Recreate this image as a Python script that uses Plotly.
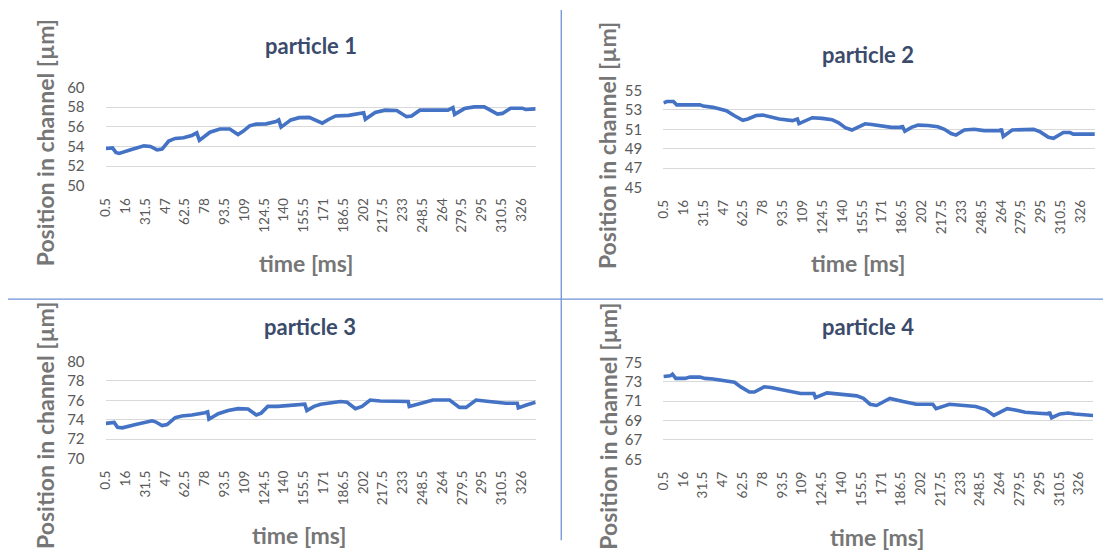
import plotly.graph_objects as go

# ---- measured particle positions (time in ms, position in µm) ----
t1 = [0.5, 5.7, 8.3, 10.9, 19.9, 30.3, 35.4, 40.6, 44.5, 49.7, 54.8, 61.3, 67.8, 71.7, 73.7,
      82.0, 89.8, 97.5, 104.0, 107.9, 113.1, 118.3, 126.0, 133.8, 135.9, 137.7, 145.4, 151.9,
      159.7, 164.8, 170.0, 175.2, 180.4, 190.7, 198.5, 202.4, 203.7, 211.4, 219.2, 228.3,
      236.0, 239.9, 246.4, 268.4, 272.3, 273.6, 281.3, 289.1, 296.9, 302.0, 307.2, 311.1,
      317.5, 326.6, 329.2, 337.0]
p1 = [53.8, 53.86, 53.4, 53.3, 53.66, 54.06, 54.0, 53.66, 53.73, 54.55, 54.82, 54.88, 55.12,
      55.38, 54.62, 55.45, 55.78, 55.78, 55.21, 55.54, 56.1, 56.27, 56.3, 56.53, 56.7, 55.97,
      56.7, 56.93, 56.96, 56.7, 56.37, 56.77, 57.1, 57.16, 57.29, 57.43, 56.77, 57.46, 57.69,
      57.66, 57.03, 57.1, 57.69, 57.69, 57.95, 57.26, 57.85, 58.02, 58.02, 57.69, 57.29, 57.36,
      57.89, 57.89, 57.76, 57.82]

t2 = [0.5, 3.1, 8.2, 10.8, 28.9, 31.5, 39.2, 44.3, 49.5, 55.9, 62.4, 66.3, 72.7, 77.9, 84.3,
      90.8, 101.1, 105.0, 106.2, 111.4, 116.6, 124.3, 132.0, 137.2, 142.3, 147.5, 151.4, 157.8,
      163.0, 170.7, 178.4, 186.2, 186.7, 188.8, 194.0, 199.1, 206.8, 214.6, 219.7, 224.9, 228.7,
      235.2, 242.9, 250.7, 263.6, 264.1, 265.6, 272.6, 289.3, 294.5, 300.9, 304.8, 312.5, 317.7,
      320.3, 337.0]
p2 = [53.73, 53.87, 53.87, 53.53, 53.53, 53.4, 53.27, 53.13, 52.93, 52.4, 51.93, 52.07, 52.43,
      52.47, 52.27, 52.07, 51.9, 52.07, 51.6, 51.93, 52.2, 52.13, 52.0, 51.67, 51.17, 50.93,
      51.17, 51.57, 51.5, 51.33, 51.2, 51.2, 51.4, 50.8, 51.2, 51.43, 51.4, 51.27, 51.0, 50.57,
      50.4, 50.93, 51.0, 50.87, 50.87, 51.07, 50.27, 50.93, 51.0, 50.73, 50.17, 50.07, 50.67,
      50.67, 50.5, 50.5]

t3 = [0.5, 7.0, 9.6, 13.4, 23.8, 31.6, 36.7, 39.3, 44.5, 48.4, 54.8, 60.0, 67.8, 78.1, 80.2,
      81.2, 88.5, 96.3, 104.0, 111.8, 118.3, 122.1, 127.3, 135.1, 145.4, 153.2, 156.3, 157.9,
      163.6, 168.7, 179.1, 184.3, 189.4, 195.9, 201.1, 207.5, 215.3, 225.7, 237.3, 238.1, 246.4,
      256.7, 269.7, 277.4, 282.6, 290.4, 300.7, 313.7, 322.7, 323.5, 330.5, 337.0]
p3 = [73.62, 73.72, 73.22, 73.16, 73.49, 73.75, 73.88, 73.78, 73.39, 73.49, 74.21, 74.38, 74.48,
      74.71, 74.81, 74.05, 74.61, 74.94, 75.14, 75.11, 74.48, 74.68, 75.37, 75.37, 75.44, 75.54,
      75.6, 74.94, 75.37, 75.6, 75.77, 75.87, 75.8, 75.14, 75.37, 76.03, 75.93, 75.87, 75.87,
      75.37, 75.7, 76.03, 76.03, 75.27, 75.27, 76.03, 75.87, 75.7, 75.7, 75.21, 75.54, 75.8]

t4 = [0.5, 5.7, 7.5, 10.1, 17.3, 21.2, 29.0, 32.9, 39.3, 47.1, 56.1, 61.3, 67.8, 71.7, 79.4,
      84.6, 92.4, 100.1, 107.9, 118.3, 119.5, 128.6, 141.5, 151.9, 157.1, 162.3, 167.4, 177.8,
      188.2, 198.5, 211.4, 214.0, 224.4, 234.7, 245.1, 252.8, 259.3, 263.2, 269.7, 276.1, 283.9,
      294.2, 302.0, 302.8, 304.6, 311.1, 317.5, 322.7, 333.1, 337.0]
p4 = [73.54, 73.6, 73.77, 73.34, 73.34, 73.47, 73.47, 73.34, 73.27, 73.14, 72.94, 72.44, 71.94,
      71.94, 72.48, 72.41, 72.18, 71.94, 71.78, 71.78, 71.35, 71.84, 71.68, 71.54, 71.28, 70.68,
      70.55, 71.28, 70.95, 70.68, 70.68, 70.22, 70.68, 70.61, 70.45, 70.12, 69.52, 69.78, 70.22,
      70.08, 69.85, 69.75, 69.68, 69.88, 69.29, 69.68, 69.78, 69.68, 69.62, 69.52]

# category labels shown on the time axis
time_labels = ["0.5", "16", "31.5", "47", "62.5", "78", "93.5", "109", "124.5", "140", "155.5",
               "171", "186.5", "202", "217.5", "233", "248.5", "264", "279.5", "295", "310.5", "326"]

titles = ["particle 1", "particle 2", "particle 3", "particle 4"]
y_ranges = [(50, 60), (45, 55), (70, 80), (65, 75)]
series = [(t1, p1), (t2, p2), (t3, p3), (t4, p4)]

W, H = 1103, 559

# plot-area boxes in pixels: (left, right, top, bottom)
boxes = [(98.3, 531.7, 80.0, 181.7),
         (660.0, 1095.0, 83.3, 183.3),
         (98.3, 531.7, 363.3, 463.3),
         (660.0, 1093.3, 364.0, 464.3)]
# text positions in pixels: chart title, y title, x title
title_pos = [(305, 37), (866, 46), (304, 327), (866, 327)]
ytitle_pos = [(37, 137), (604, 140), (37, 429), (605, 430)]
xtitle_pos = [(300, 261), (856, 261), (293, 542), (875, 545)]

FONT = "Lato"
LINE = "#4472C4"
TICK = "#595959"
AXT = "#767676"
TTL = "#3B4B6B"


def px(x):
    return x / W


def py(y):
    return 1 - y / H


fig = go.Figure()
annotations = []
tickvals = [float(s) for s in time_labels]

for i, ((t, v), (l, r, tp, bt)) in enumerate(zip(series, boxes)):
    n = "" if i == 0 else str(i + 1)
    fig.add_trace(go.Scatter(x=t, y=v, mode="lines", line=dict(color=LINE, width=3.6),
                             xaxis="x" + n, yaxis="y" + n, showlegend=False))
    fig.layout["xaxis" + n] = dict(
        domain=[px(l), px(r)], anchor="y" + n, range=[0.25, 337.25],
        tickmode="array", tickvals=tickvals, ticktext=time_labels, tickangle=-90,
        ticks="outside", ticklen=6, tickcolor="rgba(0,0,0,0)",
        tickfont=dict(family=FONT, size=13.5, color=TICK),
        showgrid=False, zeroline=False, showline=False, fixedrange=True)
    lo, hi = y_ranges[i]
    fig.layout["yaxis" + n] = dict(
        domain=[py(bt), py(tp)], anchor="x" + n, range=[lo, hi], dtick=2, tick0=lo,
        ticks="outside", ticklen=17, tickcolor="rgba(0,0,0,0)",
        tickfont=dict(family=FONT, size=15, color=TICK),
        showgrid=True, gridcolor="#D9D9D9", gridwidth=1,
        zeroline=False, showline=False, fixedrange=True)

    tx, ty = title_pos[i]
    annotations.append(dict(text="<b>%s</b>" % titles[i], x=px(tx), y=py(ty), xref="paper",
                            yref="paper", showarrow=False, xanchor="center", yanchor="middle",
                            font=dict(family=FONT, size=22, color=TTL)))
    yx, yy = ytitle_pos[i]
    annotations.append(dict(text="<b>Position in channel [µm]</b>", x=px(yx), y=py(yy),
                            xref="paper", yref="paper", showarrow=False, textangle=-90,
                            xanchor="center", yanchor="middle",
                            font=dict(family=FONT, size=23, color=AXT)))
    xx, xy = xtitle_pos[i]
    annotations.append(dict(text="<b>time [ms]</b>", x=px(xx), y=py(xy), xref="paper",
                            yref="paper", showarrow=False, xanchor="center", yanchor="middle",
                            font=dict(family=FONT, size=23, color=AXT)))

# panel separators
shapes = [
    dict(type="line", xref="paper", yref="paper", x0=px(557.3), x1=px(557.3), y0=py(0),
         y1=py(548), line=dict(color="#6F92D8", width=1.3)),
    dict(type="line", xref="paper", yref="paper", x0=0, x1=1, y0=py(298.7), y1=py(298.7),
         line=dict(color="#6F92D8", width=1.3)),
]

fig.update_layout(width=W, height=H, margin=dict(l=0, r=0, t=0, b=0),
                  paper_bgcolor="white", plot_bgcolor="white",
                  annotations=annotations, shapes=shapes)

fig.write_html("out.html", config={"displayModeBar": False})
